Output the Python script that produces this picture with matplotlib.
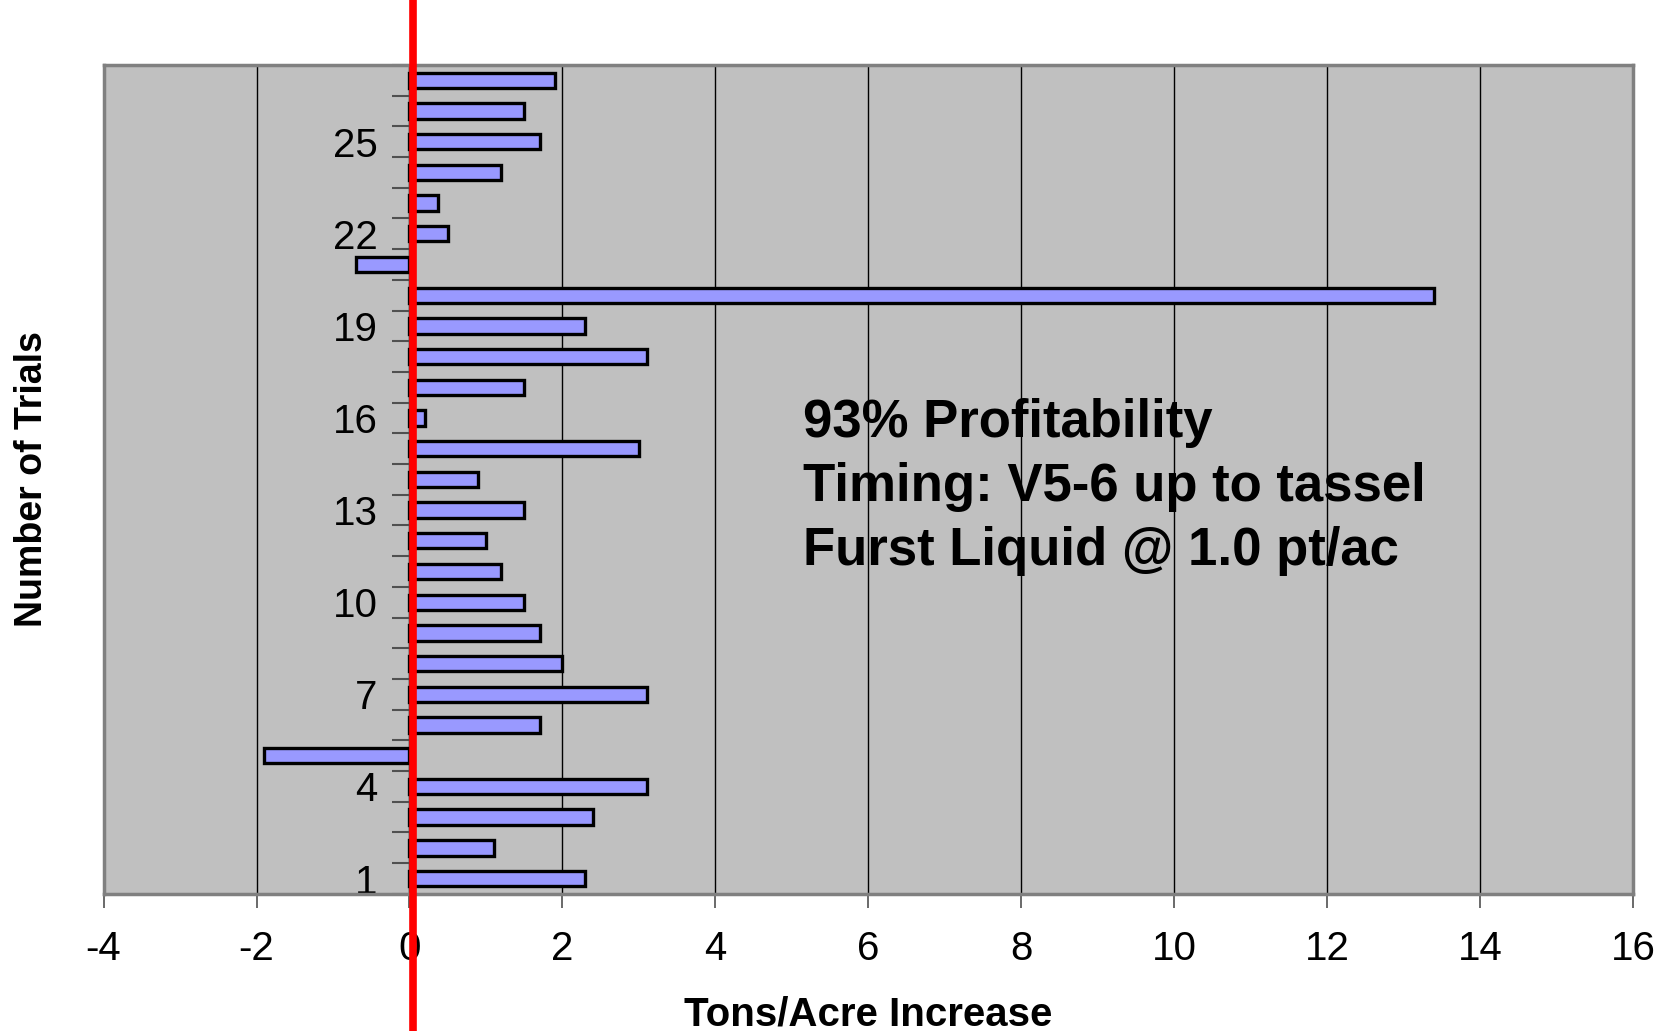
import numpy as np
import matplotlib
matplotlib.use("Agg")
import matplotlib.pyplot as plt
from matplotlib.ticker import FixedLocator, NullFormatter

plt.rcParams['font.family'] = ['Liberation Sans', 'DejaVu Sans']

# yield response per trial, trial 1 at the bottom
trials = list(range(1, 28))
increase = [2.3, 1.1, 2.4, 3.1, -1.9, 1.7, 3.1, 2.0, 1.7, 1.5,
            1.2, 1.0, 1.5, 0.9, 3.0, 0.2, 1.5, 3.1, 2.3, 13.4,
            -0.7, 0.5, 0.37, 1.2, 1.7, 1.5, 1.9]
label_trials = [1, 4, 7, 10, 13, 16, 19, 22, 25]
xticks = list(range(-4, 17, 2))
note_lines = ["93% Profitability", "Timing: V5-6 up to tassel", "Furst Liquid @ 1.0 pt/ac"]

fig = plt.figure(figsize=(16.73, 10.31), dpi=100)
ax = fig.add_axes([0.0619, 0.133, 0.9143, 0.804])
ax.set_facecolor('#C0C0C0')

ax.barh(trials, increase, height=0.5, color='#9999FF', edgecolor='black', linewidth=2.4, zorder=3)

ax.set_xlim(-4, 16)
ax.set_ylim(0.5, 27.5)
ax.set_xticks(xticks)
ax.set_xticklabels([str(t) for t in xticks], fontsize=29)
ax.xaxis.grid(True, color='black', linewidth=1.0, zorder=0)
ax.set_axisbelow(True)

# category axis sits at x=0, ticks between categories
ax.spines['left'].set_position(('data', 0))
ax.spines['left'].set_color('#404040')
ax.yaxis.set_major_locator(FixedLocator(np.arange(0.5, 28, 1)))
ax.yaxis.set_major_formatter(NullFormatter())
ax.yaxis.set_minor_locator(FixedLocator(label_trials))
ax.set_yticklabels([str(t) for t in label_trials], minor=True, fontsize=29)
ax.tick_params(axis='y', which='major', length=12, width=1.5, color='#505050', direction='out')
ax.tick_params(axis='y', which='minor', length=0, pad=23)
ax.tick_params(axis='x', length=10, width=1.2, color='#505050', pad=16)

for side in ['top', 'right', 'bottom']:
    ax.spines[side].set_color('#808080')
    ax.spines[side].set_linewidth(2.5)
ax.axvline(-4, color='#808080', linewidth=2.5, clip_on=False, zorder=4)

ax.set_xlabel('Tons/Acre Increase', fontsize=29, fontweight='bold', labelpad=20)
fig.text(0.019, 0.535, 'Number of Trials', rotation=90, fontsize=27, fontweight='bold',
         ha='center', va='center')

ax.text(5.15, 13.75, "\n".join(note_lines), fontsize=38, fontweight='bold',
        ha='left', va='center', linespacing=1.36, zorder=5)

# zero line running the full height of the figure
ax.plot([0.05, 0.05], [-0.2, 1.2], color='#FF0000', linewidth=5.5,
        transform=ax.get_xaxis_transform(), clip_on=False, zorder=6)

fig.savefig('out.png', dpi=100)
